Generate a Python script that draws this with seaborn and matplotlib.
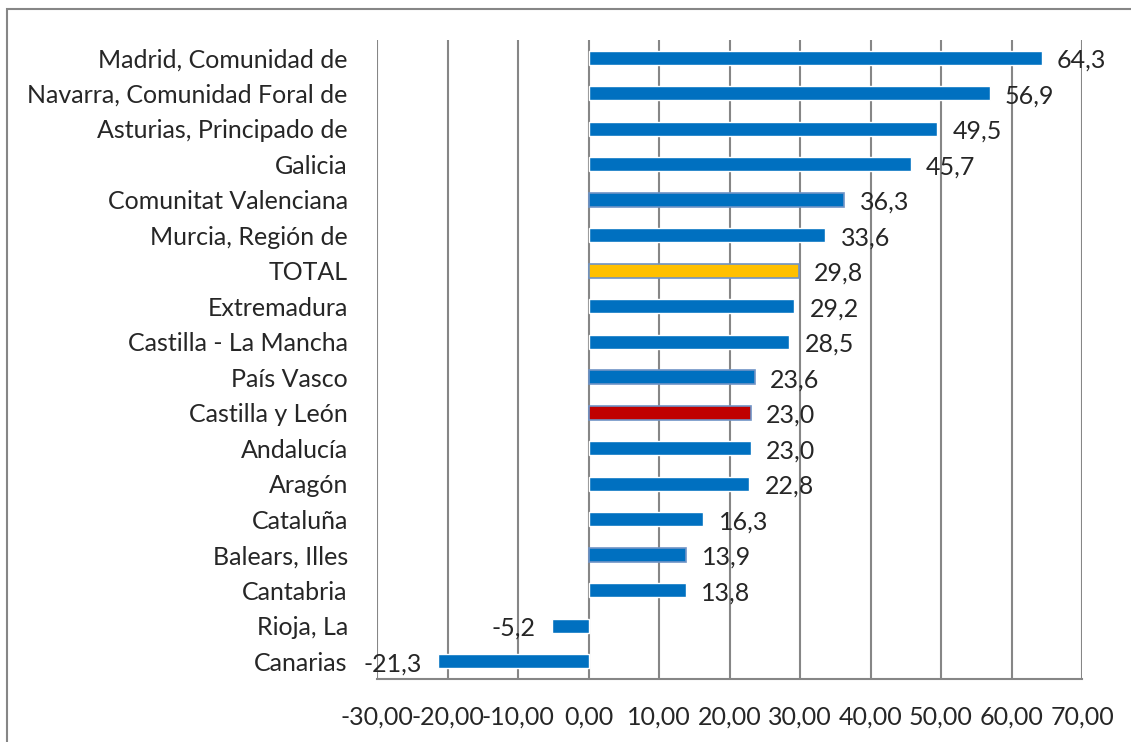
import numpy as np
import pandas as pd
import seaborn as sns
import matplotlib.pyplot as plt
from matplotlib.patches import Rectangle
from matplotlib.ticker import FuncFormatter

regiones = ['Madrid, Comunidad de', 'Navarra, Comunidad Foral de', 'Asturias, Principado de',
            'Galicia', 'Comunitat Valenciana', 'Murcia, Región de', 'TOTAL', 'Extremadura',
            'Castilla - La Mancha', 'País Vasco', 'Castilla y León', 'Andalucía', 'Aragón',
            'Cataluña', 'Balears, Illes', 'Cantabria', 'Rioja, La', 'Canarias']
valores = [64.3, 56.9, 49.5, 45.7, 36.3, 33.6, 29.8, 29.2, 28.5, 23.6, 23.0, 23.0, 22.8,
           16.3, 13.9, 13.8, -5.2, -21.3]
colores = ['#0070C0'] * len(regiones)
colores[regiones.index('TOTAL')] = '#FFC000'
colores[regiones.index('Castilla y León')] = '#C00000'
con_borde = ['Comunitat Valenciana', 'TOTAL', 'País Vasco', 'Castilla y León', 'Balears, Illes']

df = pd.DataFrame({'region': regiones, 'valor': valores})

sns.set_style('white')
plt.rcParams['font.family'] = ['Lato', 'DejaVu Sans']

fig = plt.figure(figsize=(11.31, 7.42), dpi=100)
ax = fig.add_axes([377 / 1131, 1 - 679 / 742, (1082 - 377) / 1131, (679 - 40) / 742])

sns.barplot(data=df, x='valor', y='region', hue='region', palette=colores,
            orient='h', width=0.4, legend=False, ax=ax, saturation=1)

# algunas barras llevan un borde azul claro
for bar, reg in zip(ax.patches, regiones):
    if reg in con_borde:
        bar.set_edgecolor('#6F93C6')
        bar.set_linewidth(1.2)

ax.set_xlim(-30, 70)
ax.set_xticks(np.arange(-30, 71, 10))
ax.xaxis.set_major_formatter(FuncFormatter(lambda v, p: f'{v:.2f}'.replace('.', ',')))
ax.grid(axis='x', color='#868686', linewidth=1.5)
ax.set_axisbelow(True)
ax.tick_params(axis='x', length=0, pad=19, labelsize=18)
ax.tick_params(axis='y', length=0, pad=21, labelsize=18)
ax.set_xlabel('')
ax.set_ylabel('')
for s in ['top', 'right', 'left']:
    ax.spines[s].set_visible(False)
ax.spines['bottom'].set_color('#868686')
ax.spines['bottom'].set_linewidth(1.5)

# etiquetas de valor con coma decimal
for i, v in enumerate(valores):
    txt = f'{v:.1f}'.replace('.', ',')
    if v >= 0:
        ax.annotate(txt, (v, i), xytext=(11, -2), textcoords='offset points',
                    ha='left', va='center', fontsize=18)
    else:
        ax.annotate(txt, (v, i), xytext=(-12, -2), textcoords='offset points',
                    ha='right', va='center', fontsize=18)

fig.patches.append(Rectangle((7 / 1131, -0.02), 1.05, 1 - 9 / 742 + 0.02,
                             transform=fig.transFigure, fill=False,
                             edgecolor='#868686', linewidth=1.5))

fig.savefig('out.png', dpi=100)
